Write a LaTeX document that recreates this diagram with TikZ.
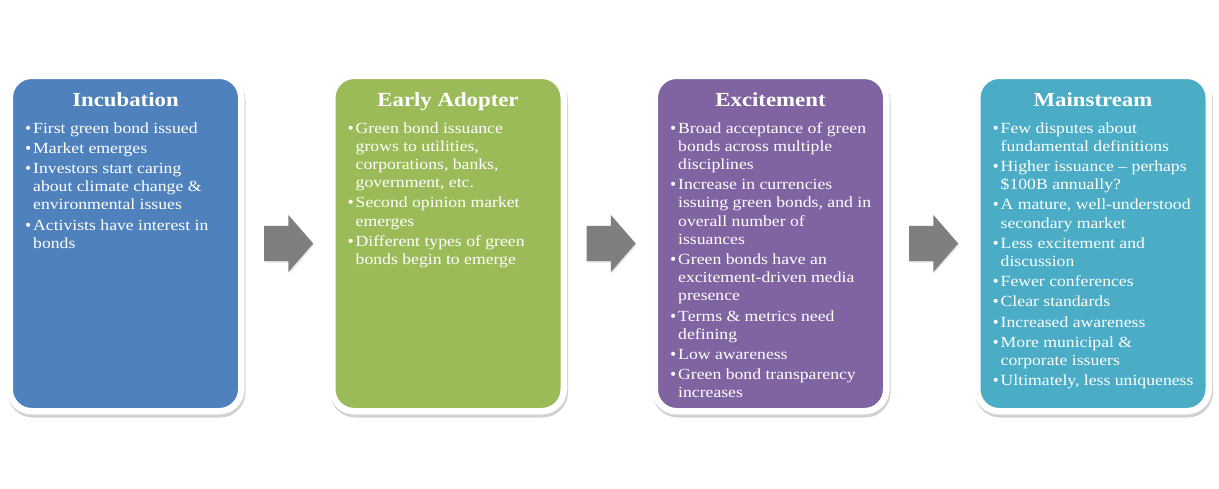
\documentclass[tikz,border=0pt]{standalone}
\usepackage{fontspec}
\setmainfont[FakeStretch=1.14]{Liberation Serif}
\newfontfamily\bulletfont{DejaVu Sans}
\usetikzlibrary{calc}
\usetikzlibrary{shadows}
\usetikzlibrary{shapes.arrows}
\usetikzlibrary{positioning}

\definecolor{incblue}{HTML}{4F81BD}
\definecolor{adgreen}{HTML}{9BBB59}
\definecolor{expurple}{HTML}{8064A2}
\definecolor{mainteal}{HTML}{4BACC6}
\definecolor{arrowgray}{HTML}{7F7F7F}

\newcommand{\bitem}[1]{\par\noindent\hangindent=8pt\hangafter=1\makebox[8pt][l]{\hspace{-1pt}{\bulletfont\fontsize{14}{18}\selectfont •}}#1}
\newcommand{\stagetext}[1]{\parbox[t]{210pt}{\raggedright\let\\\newline\setlength{\parskip}{2pt}\fontsize{15.5}{18.2}\selectfont #1}}

\begin{document}
\begin{tikzpicture}[x=1pt, y=1pt,
    node distance=91pt,
    stage/.style={rectangle, rounded corners=22pt, draw=white, line width=6.5pt,
        minimum width=231.5pt, minimum height=335.5pt, outer sep=0pt,
        drop shadow={shadow xshift=1pt, shadow yshift=-3pt, fill=black, draw=black,
            line width=6.5pt, opacity=0.18}},
    stagetitle/.style={text=white, inner sep=0pt, anchor=base, font=\fontsize{20}{24}\selectfont\bfseries},
    stagebody/.style={text=white, inner sep=0pt, anchor=base west},
    blockarrow/.style={single arrow, fill=arrowgray, draw=none, inner xsep=0pt, inner ysep=17.5pt,
        minimum height=49pt, single arrow head extend=11pt, anchor=tail,
        single arrow tip angle=98, drop shadow={shadow xshift=1pt, shadow yshift=-1.5pt, opacity=0.2}}]

    \useasboundingbox (0,0) rectangle (1219,-488);

    \node[stage, fill=incblue] (inc) at (125.5,-243.5) {};
    \node[stage, fill=adgreen, right=of inc] (ado) {};
    \node[stage, fill=expurple, right=of ado] (exc) {};
    \node[stage, fill=mainteal, right=of exc] (mai) {};

    \node[stagetitle] (inctitle) at ($(inc.north)+(0,-30.25)$) {Incubation};
    \node[stagetitle] (adotitle) at ($(ado.north)+(0,-30.25)$) {Early Adopter};
    \node[stagetitle] (exctitle) at ($(exc.north)+(0,-30.25)$) {Excitement};
    \node[stagetitle] (maititle) at ($(mai.north)+(0,-30.25)$) {Mainstream};

    \node[stagebody] (incbody) at ($(inc.north west)+(15.25,-57.25)$) {\stagetext{%
        \bitem{First green bond issued}
        \bitem{Market emerges}
        \bitem{Investors start caring\\about climate change \&\\environmental issues}
        \bitem{Activists have interest in\\bonds}}};
    \node[stagebody] (adobody) at ($(ado.north west)+(15.25,-57.25)$) {\stagetext{%
        \bitem{Green bond issuance\\grows to utilities,\\corporations, banks,\\government, etc.}
        \bitem{Second opinion market\\emerges}
        \bitem{Different types of green\\bonds begin to emerge}}};
    \node[stagebody] (excbody) at ($(exc.north west)+(15.25,-57.25)$) {\stagetext{%
        \bitem{Broad acceptance of green\\bonds across multiple\\disciplines}
        \bitem{Increase in currencies\\issuing green bonds, and in\\overall number of\\issuances}
        \bitem{Green bonds have an\\excitement-driven media\\presence}
        \bitem{Terms \& metrics need\\defining}
        \bitem{Low awareness}
        \bitem{Green bond transparency\\increases}}};
    \node[stagebody] (maibody) at ($(mai.north west)+(15.25,-57.25)$) {\stagetext{%
        \bitem{Few disputes about\\fundamental definitions}
        \bitem{Higher issuance -- perhaps\\\$100B annually?}
        \bitem{A mature, well-understood\\secondary market}
        \bitem{Less excitement and\\discussion}
        \bitem{Fewer conferences}
        \bitem{Clear standards}
        \bitem{Increased awareness}
        \bitem{More municipal \&\\corporate issuers}
        \bitem{Ultimately, less uniqueness}}};

    % arrows between the stages
    \node[blockarrow] (arr1) at ($(inc.east)+(22.75,0)$) {};
    \node[blockarrow] (arr2) at ($(ado.east)+(22.75,0)$) {};
    \node[blockarrow] (arr3) at ($(exc.east)+(22.75,0)$) {};
\end{tikzpicture}
\end{document}
